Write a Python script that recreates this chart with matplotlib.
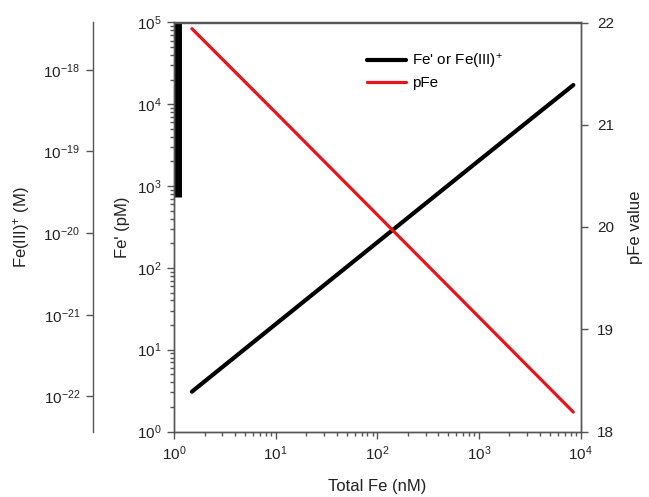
import matplotlib
matplotlib.use("Agg")
import matplotlib.pyplot as plt
from matplotlib.ticker import LogLocator, NullLocator, NullFormatter

# values
total_fe = [1.5, 10, 100, 1000, 8500]              # nM
fe_prime = [3.07, 20.5, 205, 2050, 17200]          # pM
pfe = [21.94, 21.12, 20.12, 19.12, 18.19]
# the thick black stroke next to the left axis
bar_x = [1.1, 1.1]
bar_y = [740, 1e5]
# ticks of the extra Fe(III)+ axis
fe3_ticks = [1e-22, 1e-21, 1e-20, 1e-19, 1e-18]
fe3_lim = [10**-22.43, 10**-17.42]

plt.rcParams['font.family'] = ['Liberation Sans', 'DejaVu Sans']
plt.rcParams['mathtext.default'] = 'regular'
plt.rcParams['font.size'] = 11

spine_col = '#555555'
text_col = '#222222'

fig = plt.figure(figsize=(6.49, 4.97), dpi=100)
ax = fig.add_axes([174/649, (497-431.5)/497, 406.5/649, 409/497])

ax.plot(total_fe, fe_prime, color='black', lw=3.0, solid_capstyle='round', label="Fe' or Fe(III)$^{+}$")
ax.plot(bar_x, bar_y, color='black', lw=5.0, solid_capstyle='butt')
ax.set_xscale('log')
ax.set_yscale('log')
ax.set_xlim(1, 1e4)
ax.set_ylim(1, 1e5)
ax.xaxis.set_major_locator(LogLocator(base=10, numticks=10))
ax.xaxis.set_minor_locator(LogLocator(base=10, subs=range(2, 10), numticks=20))
ax.yaxis.set_major_locator(LogLocator(base=10, numticks=10))
ax.yaxis.set_minor_locator(LogLocator(base=10, subs=range(2, 10), numticks=20))
ax.set_xlabel('Total Fe (nM)', fontsize=12, labelpad=12, color=text_col)
ax.set_ylabel("Fe' (pM)", fontsize=12, labelpad=5, color=text_col)

# pFe on the right
ax2 = ax.twinx()
ax2.plot(total_fe, pfe, color='#e8141c', lw=2.3, solid_capstyle='round', label='pFe')
ax2.set_ylim(18, 22)
ax2.set_yticks([18, 19, 20, 21, 22])
ax2.set_ylabel('pFe value', fontsize=12, labelpad=10, color=text_col)

# third axis, Fe(III)+ on the far left
ax3 = ax.twinx()
ax3.set_yscale('log')
ax3.set_ylim(*fe3_lim)
ax3.set_yticks(fe3_ticks)
ax3.yaxis.set_minor_locator(NullLocator())
ax3.yaxis.set_minor_formatter(NullFormatter())
ax3.yaxis.set_ticks_position('left')
ax3.yaxis.set_label_position('left')
ax3.spines['left'].set_position(('axes', -0.2))
for s in ['top', 'right', 'bottom']:
    ax3.spines[s].set_visible(False)
ax3.set_ylabel('Fe(III)$^{+}$ (M)', fontsize=12, labelpad=8, color=text_col)

for a in [ax, ax2, ax3]:
    for s in a.spines.values():
        s.set_color(spine_col)
        s.set_linewidth(1.0)
    a.tick_params(which='major', direction='out', length=5, width=1, color=spine_col, labelcolor=text_col, pad=4)
    a.tick_params(which='minor', direction='out', length=3, width=1, color=spine_col)
ax.tick_params(top=False, right=False, which='both')
ax2.tick_params(which='major', pad=7)

h1, l1 = ax.get_legend_handles_labels()
h2, l2 = ax2.get_legend_handles_labels()
ax2.legend(h1 + h2, l1 + l2, loc='upper left', bbox_to_anchor=(0.44, 0.962), frameon=False,
           handlelength=2.55, handletextpad=0.4, labelspacing=0.35, fontsize=11)

fig.savefig('out.png', dpi=100)
